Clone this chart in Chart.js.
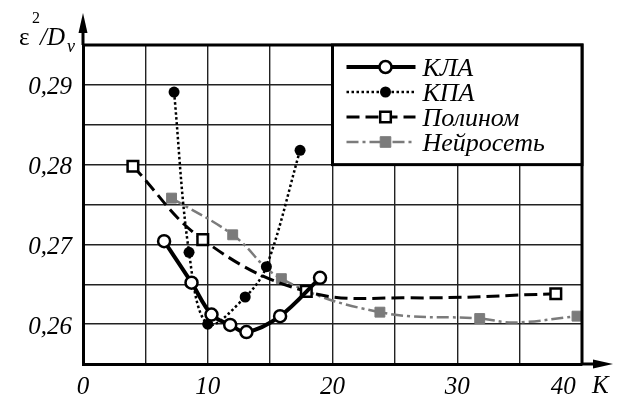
<!DOCTYPE html>
<html>
<head>
<meta charset="utf-8">
<script src="https://cdn.jsdelivr.net/npm/chart.js"></script>
<style>
  html, body { margin: 0; padding: 0; background: #fff; }
  #wrap { width: 625px; height: 397px; position: relative; }
</style>
</head>
<body>
<div id="wrap"><canvas id="chart"></canvas></div>
<script>
// КЛА
const klaK = [6.5, 8.7, 10.3, 11.8, 13.1, 15.8, 19.0];
const klaV = [0.2704, 0.2652, 0.2612, 0.2599, 0.2590, 0.2610, 0.2658];
// КПА
const kpaK = [7.3, 8.5, 10.0, 13.0, 14.7, 17.4];
const kpaV = [0.2891, 0.2690, 0.2600, 0.2634, 0.2672, 0.2818];
// Полином (4th point is the bend of the curve, no marker)
const polK = [4.0, 9.6, 17.9, 26.0, 37.9];
const polV = [0.2798, 0.2706, 0.2641, 0.2633, 0.2638];
const polMark = [true, true, true, false, true];
// Нейросеть (6th point is the dip of the curve, no marker)
const nnK = [7.1, 12.0, 15.9, 23.8, 31.8, 34.6, 39.6];
const nnV = [0.2758, 0.2712, 0.2657, 0.2615, 0.2607, 0.2602, 0.2610];
const nnMark = [true, true, true, true, true, false, true];

const xTicks = [0, 10, 20, 30, 40];
const yTicks = [0.26, 0.27, 0.28, 0.29];

const GRAY = '#7b7b7b';
const SERIF = '"Liberation Serif", "Times New Roman", serif';

function pts(xs, ys) {
    return xs.map((x, i) => ({x: x, y: ys[i]}));
}

// frame, arrows, axis names and the boxed legend
const decor = {
    id: 'decor',
    afterDatasetsDraw(chart) {
        const ctx = chart.ctx;
        const a = chart.chartArea;
        const xs = chart.scales.x, ys = chart.scales.y;
        ctx.save();
        ctx.strokeStyle = '#000';
        ctx.fillStyle = '#000';
        ctx.lineWidth = 3;
        ctx.beginPath();
        ctx.moveTo(a.left, a.top);
        ctx.lineTo(a.right, a.top);
        ctx.lineTo(a.right, a.bottom);
        ctx.stroke();

        // y arrow
        ctx.beginPath();
        ctx.moveTo(a.left, a.top);
        ctx.lineTo(a.left, 28);
        ctx.stroke();
        ctx.beginPath();
        ctx.moveTo(a.left, 13);
        ctx.lineTo(a.left - 4.5, 33);
        ctx.lineTo(a.left + 4.5, 33);
        ctx.closePath();
        ctx.fill();
        // x arrow
        ctx.beginPath();
        ctx.moveTo(a.right, a.bottom);
        ctx.lineTo(598, a.bottom);
        ctx.stroke();
        ctx.beginPath();
        ctx.moveTo(613, a.bottom);
        ctx.lineTo(593, a.bottom - 4.5);
        ctx.lineTo(593, a.bottom + 4.5);
        ctx.closePath();
        ctx.fill();

        // axis names
        ctx.textBaseline = 'alphabetic';
        ctx.textAlign = 'left';
        ctx.font = '25px ' + SERIF;
        ctx.fillText('ε', 19, 45);
        ctx.font = '16px ' + SERIF;
        ctx.fillText('2', 32, 23);
        ctx.font = 'italic 25px ' + SERIF;
        ctx.fillText('/D', 40, 45);
        ctx.font = 'italic 18px ' + SERIF;
        ctx.fillText('v', 67, 52);
        ctx.font = 'italic 25px ' + SERIF;
        ctx.fillText('K', 592, 393);

        // legend box
        const bl = xs.getPixelForValue(20), bb = ys.getPixelForValue(0.28);
        ctx.fillStyle = '#fff';
        ctx.fillRect(bl, a.top, a.right - bl, bb - a.top);
        ctx.lineWidth = 3;
        ctx.strokeRect(bl, a.top, a.right - bl, bb - a.top);

        chart.data.datasets.forEach((ds, i) => {
            const y = a.top + 22 + 25 * i;
            const x0 = bl + 14, x1 = bl + 83, xm = bl + 53;
            ctx.save();
            ctx.strokeStyle = ds.borderColor;
            ctx.lineWidth = ds.borderWidth;
            ctx.setLineDash(ds.borderDash || []);
            ctx.beginPath();
            ctx.moveTo(x0, y);
            ctx.lineTo(x1, y);
            ctx.stroke();
            ctx.setLineDash([]);
            ctx.fillStyle = ds.pointBackgroundColor;
            ctx.strokeStyle = ds.pointBorderColor;
            ctx.lineWidth = ds.pointBorderWidth;
            ctx.beginPath();
            if (ds.pointStyle === 'rect') {
                const s = 5.3;
                ctx.rect(xm - s, y - s, 2 * s, 2 * s);
            } else {
                ctx.arc(xm, y, ds.legendRadius, 0, Math.PI * 2);
            }
            ctx.fill();
            if (ds.pointBorderWidth > 0) ctx.stroke();
            ctx.restore();
            ctx.fillStyle = '#000';
            ctx.font = 'italic 26px ' + SERIF;
            ctx.fillText(ds.label, bl + 90, y + 8.5);
        });
        ctx.restore();
    }
};

new Chart(document.getElementById('chart'), {
    type: 'line',
    data: {
        datasets: [
            {
                label: 'КЛА',
                data: pts(klaK, klaV),
                borderColor: '#000',
                borderWidth: 4,
                pointStyle: 'circle',
                pointRadius: 6,
                legendRadius: 6,
                pointBackgroundColor: '#fff',
                pointBorderColor: '#000',
                pointBorderWidth: 2.5,
                tension: 0.35,
                fill: false
            },
            {
                label: 'КПА',
                data: pts(kpaK, kpaV),
                borderColor: '#000',
                borderWidth: 2.5,
                borderDash: [2.5, 2.5],
                pointStyle: 'circle',
                pointRadius: 5.5,
                legendRadius: 5.5,
                pointBackgroundColor: '#000',
                pointBorderColor: '#000',
                pointBorderWidth: 0,
                tension: 0.35,
                fill: false
            },
            {
                label: 'Полином',
                data: pts(polK, polV),
                borderColor: '#000',
                borderWidth: 3,
                borderDash: [13, 6],
                pointStyle: 'rect',
                pointRadius: polMark.map(m => m ? 7.5 : 0),
                pointBackgroundColor: '#fff',
                pointBorderColor: '#000',
                pointBorderWidth: 2.5,
                tension: 0.4,
                fill: false
            },
            {
                label: 'Нейросеть',
                data: pts(nnK, nnV),
                borderColor: GRAY,
                borderWidth: 2.5,
                borderDash: [12, 4, 3, 4],
                pointStyle: 'rect',
                pointRadius: nnMark.map(m => m ? 7 : 0),
                pointBackgroundColor: GRAY,
                pointBorderColor: GRAY,
                pointBorderWidth: 1,
                tension: 0.4,
                fill: false
            }
        ]
    },
    options: {
        responsive: true,
        maintainAspectRatio: false,
        animation: false,
        events: [],
        layout: { padding: { top: 45, right: 43, left: 0, bottom: 0 } },
        plugins: {
            legend: { display: false },
            tooltip: { enabled: false }
        },
        scales: {
            x: {
                type: 'linear',
                min: 0,
                max: 40,
                afterFit: s => { s.height = 33; },
                border: { display: true, color: '#000', width: 3 },
                grid: { color: '#222', lineWidth: 1.4, drawTicks: false },
                ticks: {
                    stepSize: 5,
                    autoSkip: false,
                    maxRotation: 0,
                    padding: 8,
                    color: '#000',
                    font: { family: SERIF, style: 'italic', size: 25 },
                    callback: v => {
                        if (!xTicks.includes(v)) return '';
                        return v === 40 ? '40\u2003\u2002' : String(v);
                    }
                }
            },
            y: {
                min: 0.255,
                max: 0.295,
                afterFit: s => { s.width = 83; },
                border: { display: true, color: '#000', width: 3 },
                grid: { color: '#222', lineWidth: 1.4, drawTicks: false },
                ticks: {
                    stepSize: 0.005,
                    autoSkip: false,
                    padding: 11,
                    labelOffset: 3,
                    color: '#000',
                    font: { family: SERIF, style: 'italic', size: 25 },
                    callback: v => {
                        const t = yTicks.find(q => Math.abs(q - v) < 1e-6);
                        return t === undefined ? '' : t.toFixed(2).replace('.', ',');
                    }
                }
            }
        }
    },
    plugins: [decor]
});
</script>
</body>
</html>
